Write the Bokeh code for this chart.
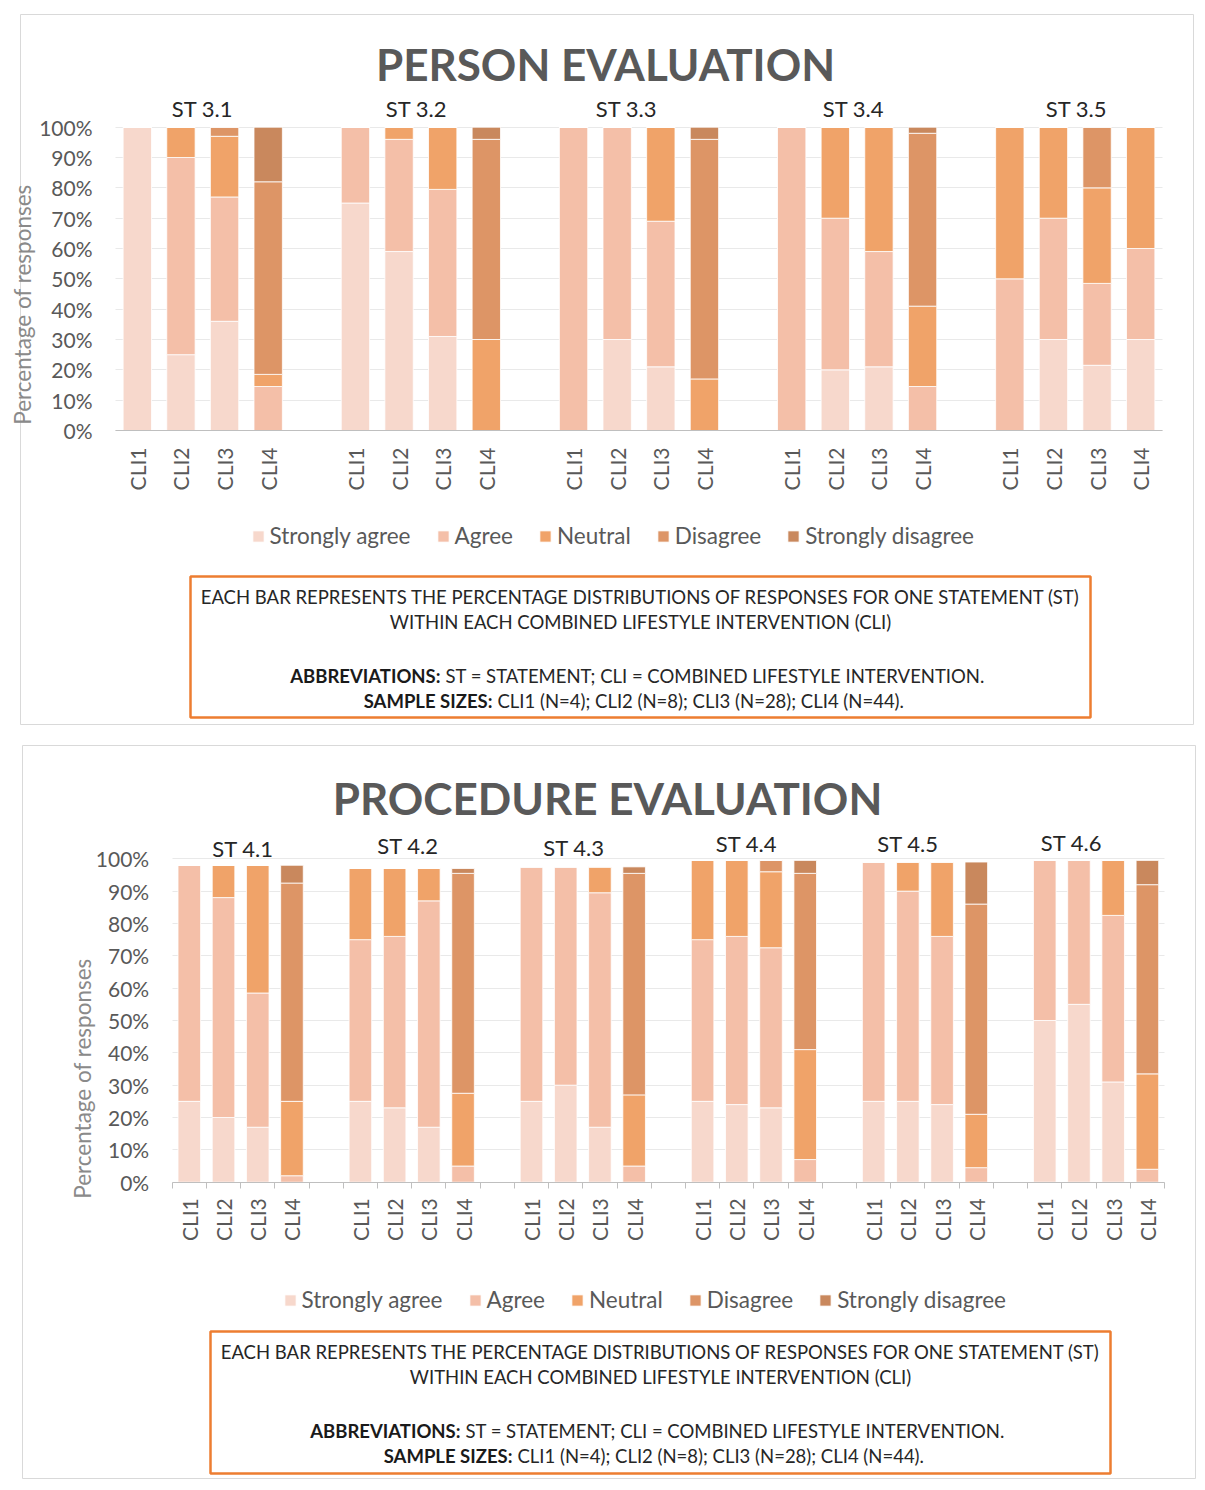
import math
from bokeh.plotting import figure
from bokeh.models import (FixedTicker, Label, Legend, LegendItem, BoxAnnotation,
                          ColumnDataSource, PrintfTickFormatter, Grid)
from bokeh.layouts import column
from bokeh.embed import file_html
from bokeh.resources import INLINE

FONT = "Lato"

responses = ["Strongly agree", "Agree", "Neutral", "Disagree", "Strongly disagree"]
response_colors = ["#F7D8CC", "#F4BFA8", "#F0A369", "#DD9566", "#C9885D"]
cli_labels = ["CLI1", "CLI2", "CLI3", "CLI4"]

# ---- PERSON EVALUATION (values in %, statement-major order: ST x CLI1..CLI4)
person_statements = ["ST 3.1", "ST 3.2", "ST 3.3", "ST 3.4", "ST 3.5"]
person_strongly_agree = [100, 25, 36, 0, 75, 59, 31, 0, 0, 30, 21, 0, 0, 20, 21, 0, 0, 30, 21.5, 30]
person_agree = [0, 65, 41, 14.5, 25, 37, 48.5, 0, 100, 70, 48, 0, 100, 50, 38, 14.5, 50, 40, 27, 30]
person_neutral = [0, 10, 20, 4, 0, 4, 20.5, 30, 0, 0, 31, 17, 0, 30, 41, 26.5, 50, 30, 31.5, 40]
person_disagree = [0, 0, 3, 63.5, 0, 0, 0, 66, 0, 0, 0, 79, 0, 0, 0, 57, 0, 0, 20, 0]
person_strongly_disagree = [0, 0, 0, 18, 0, 0, 0, 4, 0, 0, 0, 4, 0, 0, 0, 2, 0, 0, 0, 0]

# ---- PROCEDURE EVALUATION
procedure_statements = ["ST 4.1", "ST 4.2", "ST 4.3", "ST 4.4", "ST 4.5", "ST 4.6"]
procedure_strongly_agree = [25, 20, 17, 0, 25, 23, 17, 0, 25, 30, 17, 0, 25, 24, 23, 0, 25, 25, 24, 0, 50, 55, 31, 0]
procedure_agree = [73, 68, 41.5, 2, 50, 53, 70, 5, 72.5, 67.5, 72.5, 5, 50, 52, 49.5, 7, 74, 65, 52, 4.5, 49.5, 44.5, 51.5, 4]
procedure_neutral = [0, 10, 39.5, 23, 22, 21, 10, 22.5, 0, 0, 8, 22, 24.5, 23.5, 23.5, 34, 0, 9, 23, 16.5, 0, 0, 17, 29.5]
procedure_disagree = [0, 0, 0, 67.5, 0, 0, 0, 68, 0, 0, 0, 68.5, 0, 0, 3.5, 54.5, 0, 0, 0, 65, 0, 0, 0, 58.5]
procedure_strongly_disagree = [0, 0, 0, 5.5, 0, 0, 0, 1.5, 0, 0, 0, 2, 0, 0, 0, 4, 0, 0, 0, 13, 0, 0, 0, 7.5]

note_line1 = "EACH BAR REPRESENTS THE PERCENTAGE DISTRIBUTIONS OF RESPONSES FOR ONE STATEMENT (ST)"
note_line2 = "WITHIN EACH COMBINED LIFESTYLE INTERVENTION (CLI)"
note_bold3, note_rest3 = "ABBREVIATIONS:", "ST = STATEMENT;  CLI = COMBINED LIFESTYLE INTERVENTION."
note_bold4, note_rest4 = "SAMPLE SIZES:", "CLI1 (N=4); CLI2 (N=8); CLI3 (N=28); CLI4 (N=44)."

GRID_HAS_CROSS = "cross_bounds" in Grid.properties()


def make_panel(title, statements, series, g):
    n_st, n_cli = len(statements), len(cli_labels)
    nslots = n_st * (n_cli + 1) - 1
    slot = (g["chart_r"] - g["chart_l"]) / nslots
    k = (g["y0"] - g["y100"]) / 100.0

    def X(px):
        return (px - g["chart_l"]) / slot - 0.5

    def Y(py):
        return (g["y0"] - py) / k

    xs = [s * (n_cli + 1) + c for s in range(n_st) for c in range(n_cli)]
    data = {"x": xs}
    for r, vals in zip(responses, series):
        data[r] = vals
    src = ColumnDataSource(data)

    p = figure(width=g["w"], height=g["h"], x_range=(X(0), X(g["w"])), y_range=(Y(g["h"]), Y(0)),
               output_backend="svg", toolbar_location=None,
               min_border_left=0, min_border_right=0, min_border_top=0, min_border_bottom=0)
    p.outline_line_color = None
    p.background_fill_color = "white"
    p.border_fill_color = "white"

    x_lo, x_hi = -0.5, nslots - 0.5
    chart_px = g["chart_r"] - g["chart_l"]

    # panel border
    p.add_layout(BoxAnnotation(left=X(g["panel"][0]), right=X(g["panel"][2]),
                               top=Y(g["panel"][1]), bottom=Y(g["panel"][3]),
                               fill_alpha=0, line_color="#d9d9d9", line_alpha=1, line_width=1,
                               level="underlay"))

    yticks = FixedTicker(ticks=list(range(0, 101, 10)))
    ya = p.yaxis[0]
    ya.fixed_location = x_lo
    ya.bounds = (0, 100)
    ya.ticker = yticks
    ya.formatter = PrintfTickFormatter(format="%d%%")
    ya.axis_line_color = None
    ya.minor_tick_line_color = None
    ya.major_tick_out = 0
    ya.major_label_standoff = g["ylab_standoff"]
    ya.major_label_text_font = FONT
    ya.major_label_text_font_size = "21px"
    ya.major_label_text_color = "#595959"

    yg = p.ygrid[0]
    if GRID_HAS_CROSS:
        yg.ticker = yticks
        yg.cross_bounds = (x_lo, x_hi)
        yg.grid_line_color = "#e9e9e9"
        ya.major_tick_line_color = None
        ya.major_tick_in = 0
    else:
        yg.visible = False
        ya.level = "underlay"
        ya.major_tick_in = chart_px
        ya.major_tick_line_color = "#e9e9e9"
    p.xgrid.visible = False

    rends = p.vbar_stack(responses, x="x", width=g["bar_w"], color=response_colors, source=src,
                         line_color="white", line_width=0.8)

    xa = p.xaxis[0]
    xa.fixed_location = 0
    xa.bounds = (x_lo, x_hi)
    boundaries = [i - 0.5 for i in range(nslots + 1)] if g["ticks"] else []
    xa.ticker = FixedTicker(ticks=xs, minor_ticks=boundaries)
    xa.major_label_overrides = {x: cli_labels[i % n_cli] for i, x in enumerate(xs)}
    xa.major_label_orientation = math.pi / 2
    xa.major_tick_line_color = None
    xa.major_tick_out = 0
    xa.major_tick_in = 0
    xa.minor_tick_in = 0
    xa.minor_tick_out = 6
    xa.minor_tick_line_color = "#bfbfbf" if g["ticks"] else None
    xa.axis_line_color = "#bfbfbf"
    xa.major_label_standoff = g["xlab_standoff"]
    xa.major_label_text_font = FONT
    xa.major_label_text_font_size = "21px"
    xa.major_label_text_color = "#595959"

    # title
    p.add_layout(Label(x=X(g["title"][0]), y=Y(g["title"][1]), text=title, text_align="center",
                       text_baseline="middle", text_font=FONT, text_font_size="44px",
                       text_font_style="bold", text_color="#595959"))
    # statement labels
    for st, (lx, ly) in zip(statements, g["st_pos"]):
        p.add_layout(Label(x=X(lx), y=Y(ly), text=st, text_align="center", text_baseline="middle",
                           text_font=FONT, text_font_size="22px", text_color="#262626"))
    # y axis title
    p.add_layout(Label(x=X(g["ytitle"][0]), y=Y(g["ytitle"][1]), text="Percentage of responses",
                       angle=math.pi / 2, text_align="center", text_baseline="middle",
                       text_font=FONT, text_font_size="22.5px", text_color="#8a8a8a"))

    # legend
    items = [LegendItem(label=r, renderers=[rd]) for r, rd in zip(responses, rends)]
    lx, lcy = g["legend"]
    legend = Legend(items=items, orientation="horizontal",
                    location=(lx - 1.5, g["h"] - (lcy + 13)),
                    glyph_width=14, glyph_height=14, label_standoff=5, spacing=25,
                    padding=0, margin=0, background_fill_alpha=0, border_line_color=None,
                    label_text_font=FONT, label_text_font_size="22.5px", label_text_color="#595959")
    p.add_layout(legend)

    # note box
    bl, bt, br, bb = g["box"]
    p.add_layout(BoxAnnotation(left=X(bl), right=X(br), top=Y(bt), bottom=Y(bb),
                               fill_alpha=0, line_color="#ED7D31", line_alpha=1, line_width=2.5))
    cx = (bl + br) / 2
    ys = g["note_y"]
    fs = "18.5px"
    for txt, yy in ((note_line1, ys[0]), (note_line2, ys[1])):
        p.add_layout(Label(x=X(cx), y=Y(yy), text=txt, text_align="center", text_baseline="middle",
                           text_font=FONT, text_font_size=fs, text_color="#262626"))
    for (bold, rest), yy, split in (((note_bold3, note_rest3), ys[2], g["split"][0]),
                                    ((note_bold4, note_rest4), ys[3], g["split"][1])):
        p.add_layout(Label(x=X(split), y=Y(yy), text=bold, text_align="right", text_baseline="middle",
                           text_font=FONT, text_font_size=fs, text_font_style="bold",
                           text_color="#1a1a1a"))
        p.add_layout(Label(x=X(split + 5), y=Y(yy), text=rest, text_align="left", text_baseline="middle",
                           text_font=FONT, text_font_size=fs, text_color="#262626"))
    return p


# geometry in figure-local pixels (figure 1 at page (0,0), figure 2 at page (0,735))
top_geom = dict(w=1205, h=735, chart_l=115, chart_r=1162, y0=430, y100=126.7, bar_w=0.65,
                ticks=False, ylab_standoff=23, xlab_standoff=17,
                panel=(20, 14, 1193, 724), title=(605, 63),
                st_pos=[(202, 108), (416, 108), (626, 108), (853, 108), (1076, 108)],
                ytitle=(22, 304), legend=(252, 536),
                box=(190, 576, 1090, 717), note_y=(596, 621, 675, 700), split=(440, 492))
bot_geom = dict(w=1205, h=753, chart_l=171.7, chart_r=1164, y0=446.7, y100=123.3, bar_w=0.66,
                ticks=True, ylab_standoff=23, xlab_standoff=10,
                panel=(22, 10, 1195, 743), title=(607, 62),
                st_pos=[(242.5, 113), (407.5, 110), (573.5, 112), (746, 108), (907.5, 108), (1071, 107)],
                ytitle=(81.5, 343), legend=(284, 565),
                box=(210, 596, 1110, 738), note_y=(616, 641, 695, 720), split=(460, 512))

p1 = make_panel("PERSON EVALUATION", person_statements,
                [person_strongly_agree, person_agree, person_neutral, person_disagree,
                 person_strongly_disagree], top_geom)
p2 = make_panel("PROCEDURE EVALUATION", procedure_statements,
                [procedure_strongly_agree, procedure_agree, procedure_neutral, procedure_disagree,
                 procedure_strongly_disagree], bot_geom)

layout = column(p1, p2, spacing=0)
open("out.html", "w").write(file_html(layout, INLINE))
